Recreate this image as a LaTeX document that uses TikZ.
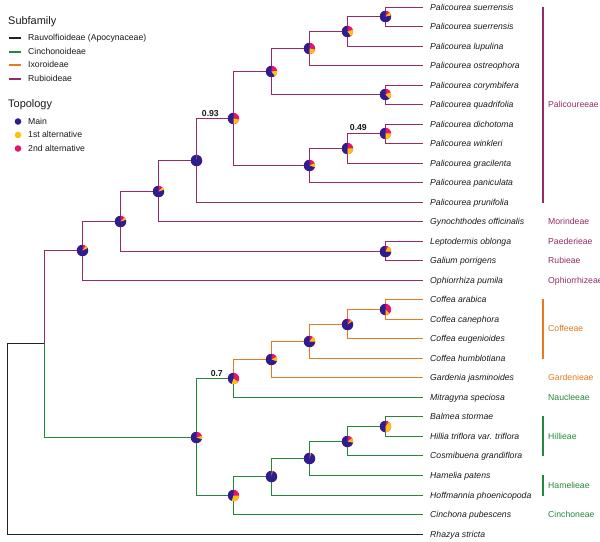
\documentclass[tikz,border=0pt]{standalone}
\usepackage{fontspec}
\setmainfont{Liberation Sans}
\usetikzlibrary{calc}
\definecolor{rub}{HTML}{952A64}
\definecolor{cin}{HTML}{23883A}
\definecolor{ixo}{HTML}{E8791E}
\definecolor{apo}{HTML}{222222}
\definecolor{pmain}{HTML}{2D1E8F}
\definecolor{pfirst}{HTML}{FFC20A}
\definecolor{psecond}{HTML}{E3166A}
\definecolor{tipc}{HTML}{1A1A1A}
\newcommand{\pieR}{5.7bp}
\newcommand{\drawpie}[3]{%
  \fill[psecond] (#1) circle[radius=\pieR];
  \fill[pmain] (#1) -- ++(90:\pieR) arc[start angle=90, delta angle={360*#2}, radius=\pieR] -- cycle;
  \fill[pfirst] (#1) -- ++({90+360*#2}:\pieR) arc[start angle={90+360*#2}, delta angle={360*#3}, radius=\pieR] -- cycle;
}
\begin{document}
\begin{tikzpicture}[x=1bp,y=-1bp,
  br/.style={line width=1.6bp},
  barline/.style={line width=1.8bp},
  legline/.style={line width=2bp},
  tip/.style={anchor=mid west, inner sep=0pt, font=\fontsize{8.7}{10}\selectfont\itshape, text=tipc},
  clade/.style={anchor=mid west, inner sep=0pt, font=\fontsize{8.7}{10}\selectfont},
  legtxt/.style={anchor=mid west, inner sep=0pt, font=\fontsize{8.7}{10}\selectfont, text=tipc},
  legtitle/.style={anchor=mid west, inner sep=0pt, font=\fontsize{11}{13}\selectfont, text=tipc},
  supp/.style={anchor=base east, inner sep=0pt, font=\fontsize{8.7}{10}\selectfont\bfseries, text=tipc}]
\useasboundingbox (0,0) rectangle (600,542);

% tip end coordinates and labels
\foreach \i/\y/\t in {
 0/7.5/Palicourea suerrensis,
 1/26.5/Palicourea suerrensis,
 2/46.5/Palicourea lupulina,
 3/65.5/Palicourea ostreophora,
 4/85.5/Palicourea corymbifera,
 5/104.5/Palicourea quadrifolia,
 6/124.5/Palicourea dichotoma,
 7/143.5/Palicourea winkleri,
 8/163.5/Palicourea gracilenta,
 9/182.5/Palicourea paniculata,
 10/202.5/Palicourea prunifolia,
 11/221.5/Gynochthodes officinalis,
 12/241.5/Leptodermis oblonga,
 13/260.5/Galium porrigens,
 14/280.5/Ophiorrhiza pumila,
 15/299.5/Coffea arabica,
 16/319.5/Coffea canephora,
 17/338.5/Coffea eugenioides,
 18/358.5/Coffea humblotiana,
 19/377.5/Gardenia jasminoides,
 20/397.5/Mitragyna speciosa,
 21/416.5/Balmea stormae,
 22/436.5/Hillia triflora var. triflora,
 23/455.5/Cosmibuena grandiflora,
 24/475.5/Hamelia patens,
 25/495.5/Hoffmannia phoenicopoda,
 26/514.5/Cinchona pubescens,
 27/534.5/Rhazya stricta}{
  \coordinate (t\i) at (422.5,\y);
  \node[tip] (l\i) at (430,\y) {\t};
}

% internal nodes
\coordinate (n1) at (385.5,16.5);
\coordinate (n2) at (347.5,31.5);
\coordinate (n3) at (309.5,48.5);
\coordinate (n4) at (385.5,94.5);
\coordinate (n5) at (271.5,71.5);
\coordinate (n6) at (385.5,133.5);
\coordinate (n7) at (347.5,148.5);
\coordinate (n8) at (309.5,165.5);
\coordinate (n9) at (233.5,118.5);
\coordinate (n10) at (196.5,160.5);
\coordinate (n11) at (158.5,191.5);
\coordinate (n12) at (385.5,251.5);
\coordinate (n13) at (120.5,221.5);
\coordinate (n14) at (82.5,250.5);
\coordinate (c1) at (385.5,309.5);
\coordinate (c2) at (347.5,324.5);
\coordinate (c3) at (309.5,341.5);
\coordinate (c4) at (271.5,359.5);
\coordinate (c5) at (233.5,378.5);
\coordinate (h1) at (385.5,426.5);
\coordinate (h2) at (347.5,441.5);
\coordinate (h3) at (309.5,458.5);
\coordinate (h4) at (271.5,476.5);
\coordinate (h5) at (233.5,495.5);
\coordinate (g) at (196.5,437.5);
\coordinate (ing) at (44.5,343.5);
\coordinate (root) at (7.5,438.5);

% branches
\foreach \a/\b in {root/ing, root/t27}
  \draw[br, apo] (\a) |- (\b);
\foreach \a/\b in {ing/n14, n14/n13, n14/t14, n13/n11, n13/n12, n12/t12, n12/t13,
  n11/n10, n11/t11, n10/n9, n10/t10, n9/n5, n9/n8, n5/n3, n5/n4, n3/n2, n3/t3,
  n2/n1, n2/t2, n1/t0, n1/t1, n4/t4, n4/t5, n8/n7, n8/t9, n7/n6, n7/t8, n6/t6, n6/t7}
  \draw[br, rub] (\a) |- (\b);
\foreach \a/\b in {ing/g, g/c5, g/h5, c5/t20, h5/h4, h5/t26, h4/h3, h4/t25,
  h3/h2, h3/t24, h2/h1, h2/t23, h1/t21, h1/t22}
  \draw[br, cin] (\a) |- (\b);
\foreach \a/\b in {c5/c4, c4/c3, c4/t19, c3/c2, c3/t18, c2/c1, c2/t17, c1/t15, c1/t16}
  \draw[br, ixo] (\a) |- (\b);

% pies
\foreach \n/\m/\f in {n1/0.78/0.10, n2/0.6/0.2, n3/0.5/0.22, n4/0.62/0.2, n5/0.6/0.17,
  n6/0.5/0.25, n7/0.5/0.25, n8/0.7/0.12, n9/0.5/0.22, n10/0.98/0.01, n11/0.8/0.08,
  n12/0.75/0.17, n13/0.8/0.07, n14/0.82/0.08, c1/0.5/0.12, c2/0.85/0.05, c3/0.75/0.15,
  c4/0.7/0.13, c5/0.45/0.2, h1/0.5/0.4, h2/0.72/0.13, h3/0.95/0.02, h4/0.97/0.02,
  h5/0.45/0.3, g/0.7/0.1}{
  \drawpie{\n}{\m}{\f}
}

% support values
\node[supp] (s93) at ($(n9)+(-14.5,-2.4)$) {0.93};
\node[supp] (s49) at ($(n6)+(-18.5,-3)$) {0.49};
\node[supp] (s7) at ($(c5)+(-10.5,-2.5)$) {0.7};

% clade bars and labels
\coordinate (bPa) at (543,7); \coordinate (bPb) at (543,203);
\draw[barline, rub] (bPa) -- (bPb);
\node[clade, text=rub] (cPal) at (548,104.5) {Palicoureeae};
\node[clade, text=rub] (cMor) at (548,221.5) {Morindeae};
\node[clade, text=rub] (cPae) at (548,241.5) {Paederieae};
\node[clade, text=rub] (cRub) at (548,260.5) {Rubieae};
\node[clade, text=rub] (cOph) at (548,280.5) {Ophiorrhizeae};
\coordinate (bCa) at (543,299); \coordinate (bCb) at (543,359);
\draw[barline, ixo] (bCa) -- (bCb);
\node[clade, text=ixo] (cCof) at (548,329) {Coffeeae};
\node[clade, text=ixo] (cGar) at (548,377.5) {Gardenieae};
\node[clade, text=cin] (cNau) at (548,397.5) {Naucleeae};
\coordinate (bHa) at (543,416); \coordinate (bHb) at (543,456);
\draw[barline, cin] (bHa) -- (bHb);
\node[clade, text=cin] (cHil) at (548,436.5) {Hillieae};
\coordinate (bMa) at (543,475); \coordinate (bMb) at (543,496);
\draw[barline, cin] (bMa) -- (bMb);
\node[clade, text=cin] (cHam) at (548,485.5) {Hamelieae};
\node[clade, text=cin] (cCin) at (548,514.5) {Cinchoneae};

% legend
\node[legtitle] (lgS) at (8,22) {Subfamily};
\foreach \y/\c/\t in {38/apo/Rauvolfioideae (Apocynaceae), 52/cin/Cinchonoideae,
  65/ixo/Ixoroideae, 79/rub/Rubioideae}{
  \draw[legline, \c] (9,\y) -- (21,\y);
  \node[legtxt] at (28,\y) {\t};
}
\node[legtitle] (lgT) at (8,105) {Topology};
\foreach \y/\c/\t in {121.5/pmain/Main, 135/pfirst/1st alternative, 148.5/psecond/2nd alternative}{
  \fill[\c] (18,\y) circle[radius=3.3bp];
  \node[legtxt] at (28,\y) {\t};
}
\end{tikzpicture}
\end{document}
